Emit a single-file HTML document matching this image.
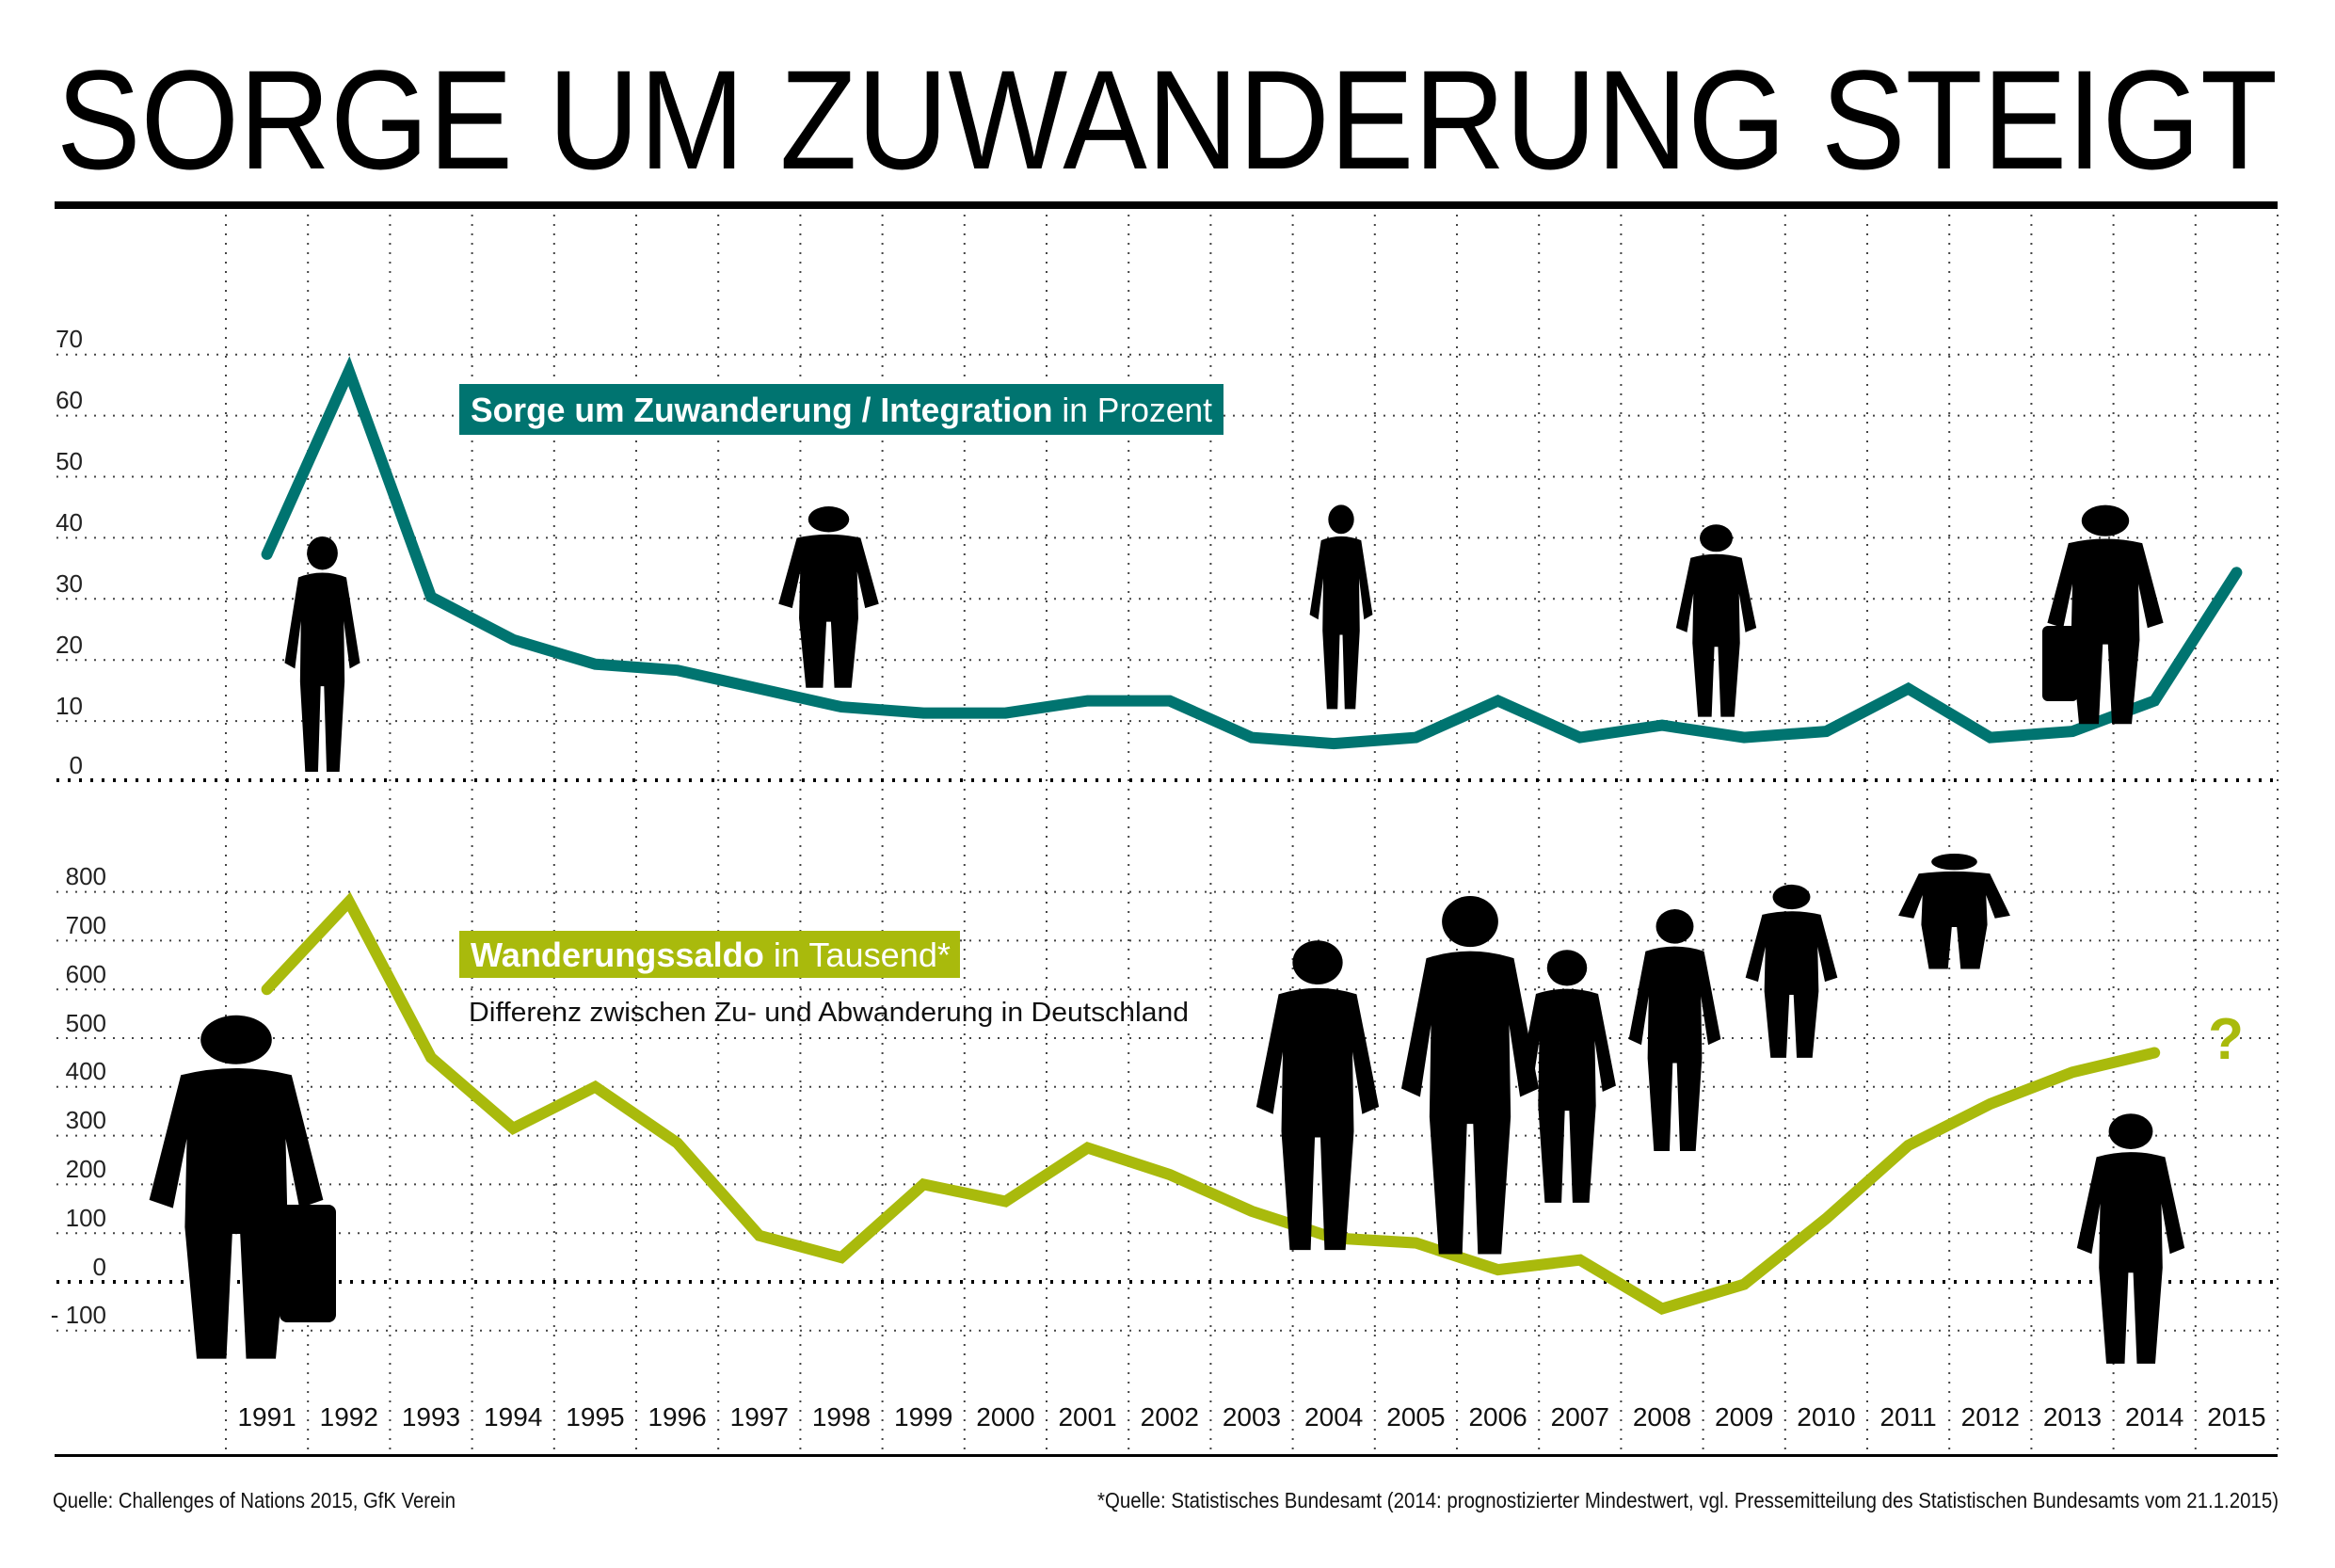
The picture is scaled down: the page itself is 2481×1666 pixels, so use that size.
<!DOCTYPE html>
<html><head><meta charset="utf-8"><style>
html,body{margin:0;padding:0;background:#fff;}
svg{display:block;font-family:"Liberation Sans",sans-serif;}
</style></head><body>
<svg width="2481" height="1666" viewBox="0 0 2481 1666" xmlns="http://www.w3.org/2000/svg">
<defs>
<symbol id="p" viewBox="0 0 100 260" preserveAspectRatio="none">
<circle cx="50" cy="22" r="18"/>
<path d="M22 48 Q50 38 78 48 L94 140 L82 146 L75 95 L76 160 L70 257 L55 257 L52 165 L48 165 L45 257 L30 257 L24 160 L25 95 L18 146 L6 140 Z"/>
</symbol>
</defs>
<rect width="2481" height="1666" fill="#fff"/>
<text x="60" y="179" font-size="150" textLength="2360" lengthAdjust="spacingAndGlyphs" fill="#000">SORGE UM ZUWANDERUNG STEIGT</text>
<rect x="58" y="214" width="2362" height="8" fill="#000"/>
<g stroke="#444" stroke-width="2" stroke-dasharray="2,8">
<line x1="240" y1="228" x2="240" y2="1545"/><line x1="327.2" y1="228" x2="327.2" y2="1545"/><line x1="414.4" y1="228" x2="414.4" y2="1545"/><line x1="501.6" y1="228" x2="501.6" y2="1545"/><line x1="588.8" y1="228" x2="588.8" y2="1545"/><line x1="676" y1="228" x2="676" y2="1545"/><line x1="763.2" y1="228" x2="763.2" y2="1545"/><line x1="850.4" y1="228" x2="850.4" y2="1545"/><line x1="937.6" y1="228" x2="937.6" y2="1545"/><line x1="1024.8" y1="228" x2="1024.8" y2="1545"/><line x1="1112" y1="228" x2="1112" y2="1545"/><line x1="1199.2" y1="228" x2="1199.2" y2="1545"/><line x1="1286.4" y1="228" x2="1286.4" y2="1545"/><line x1="1373.6" y1="228" x2="1373.6" y2="1545"/><line x1="1460.8" y1="228" x2="1460.8" y2="1545"/><line x1="1548" y1="228" x2="1548" y2="1545"/><line x1="1635.2" y1="228" x2="1635.2" y2="1545"/><line x1="1722.4" y1="228" x2="1722.4" y2="1545"/><line x1="1809.6" y1="228" x2="1809.6" y2="1545"/><line x1="1896.8" y1="228" x2="1896.8" y2="1545"/><line x1="1984" y1="228" x2="1984" y2="1545"/><line x1="2071.2" y1="228" x2="2071.2" y2="1545"/><line x1="2158.4" y1="228" x2="2158.4" y2="1545"/><line x1="2245.6" y1="228" x2="2245.6" y2="1545"/><line x1="2332.8" y1="228" x2="2332.8" y2="1545"/><line x1="2420" y1="228" x2="2420" y2="1545"/>
<line x1="60" y1="376.7" x2="2420" y2="376.7"/><line x1="60" y1="441.6" x2="2420" y2="441.6"/><line x1="60" y1="506.5" x2="2420" y2="506.5"/><line x1="60" y1="571.4" x2="2420" y2="571.4"/><line x1="60" y1="636.3" x2="2420" y2="636.3"/><line x1="60" y1="701.2" x2="2420" y2="701.2"/><line x1="60" y1="766.1" x2="2420" y2="766.1"/>
<line x1="60" y1="947.6" x2="2420" y2="947.6"/><line x1="60" y1="999.4" x2="2420" y2="999.4"/><line x1="60" y1="1051.2" x2="2420" y2="1051.2"/><line x1="60" y1="1103" x2="2420" y2="1103"/><line x1="60" y1="1154.8" x2="2420" y2="1154.8"/><line x1="60" y1="1206.6" x2="2420" y2="1206.6"/><line x1="60" y1="1258.4" x2="2420" y2="1258.4"/><line x1="60" y1="1310.2" x2="2420" y2="1310.2"/><line x1="60" y1="1413.8" x2="2420" y2="1413.8"/>
</g>
<g stroke="#000" stroke-width="4" stroke-dasharray="3,9">
<line x1="60" y1="829" x2="2420" y2="829"/><line x1="60" y1="1362" x2="2420" y2="1362"/>
</g>
<rect x="58" y="1545" width="2362" height="3" fill="#000"/>
<g font-size="26" fill="#222" text-anchor="end">
<text x="88" y="369">70</text><text x="88" y="434">60</text><text x="88" y="499">50</text><text x="88" y="564">40</text><text x="88" y="629">30</text><text x="88" y="694">20</text><text x="88" y="759">10</text><text x="88" y="822">0</text>
<text x="113" y="940">800</text><text x="113" y="992">700</text><text x="113" y="1044">600</text><text x="113" y="1096">500</text><text x="113" y="1147">400</text><text x="113" y="1199">300</text><text x="113" y="1251">200</text><text x="113" y="1303">100</text><text x="113" y="1355">0</text><text x="113" y="1406">- 100</text>
</g>
<g font-size="28" fill="#111" text-anchor="middle">
<text x="283.6" y="1515">1991</text><text x="370.8" y="1515">1992</text><text x="458" y="1515">1993</text><text x="545.2" y="1515">1994</text><text x="632.4" y="1515">1995</text><text x="719.6" y="1515">1996</text><text x="806.8" y="1515">1997</text><text x="894" y="1515">1998</text><text x="981.2" y="1515">1999</text><text x="1068.4" y="1515">2000</text><text x="1155.6" y="1515">2001</text><text x="1242.8" y="1515">2002</text><text x="1330" y="1515">2003</text><text x="1417.2" y="1515">2004</text><text x="1504.4" y="1515">2005</text><text x="1591.6" y="1515">2006</text><text x="1678.8" y="1515">2007</text><text x="1766" y="1515">2008</text><text x="1853.2" y="1515">2009</text><text x="1940.4" y="1515">2010</text><text x="2027.6" y="1515">2011</text><text x="2114.8" y="1515">2012</text><text x="2202" y="1515">2013</text><text x="2289.2" y="1515">2014</text><text x="2376.4" y="1515">2015</text>
</g>
<polyline fill="none" stroke="#007470" stroke-width="12" stroke-linejoin="miter" stroke-linecap="round" points="283.6,588.9 370.8,394.2 458,634.3 545.2,679.7 632.4,705.7 719.6,712.2 806.8,731.7 894,751.1 981.2,757.6 1068.4,757.6 1155.6,744.6 1242.8,744.6 1330,783.6 1417.2,790.1 1504.4,783.6 1591.6,744.6 1678.8,783.6 1766,770.6 1853.2,783.6 1940.4,777.1 2027.6,731.7 2114.8,783.6 2202,777.1 2289.2,744.6 2376.4,608.3"/>
<polyline fill="none" stroke="#a9ba0c" stroke-width="12" stroke-linejoin="miter" stroke-linecap="round" points="283.6,1051.2 370.8,958 458,1123.7 545.2,1198.8 632.4,1154.8 719.6,1214.4 806.8,1312.8 894,1336.1 981.2,1258.4 1068.4,1276.5 1155.6,1219.6 1242.8,1248 1330,1286.9 1417.2,1315.4 1504.4,1320.6 1591.6,1349.1 1678.8,1338.7 1766,1390.5 1853.2,1364.6 1940.4,1294.7 2027.6,1217 2114.8,1172.9 2202,1139.3 2289.2,1118.5"/>
<rect x="488" y="408" width="812" height="54" fill="#007470"/>
<text x="500" y="448" font-size="36" fill="#fff" textLength="788" lengthAdjust="spacingAndGlyphs"><tspan font-weight="bold">Sorge um Zuwanderung / Integration</tspan> in Prozent</text>
<rect x="488" y="989" width="532" height="50" fill="#a9ba0c"/>
<text x="500" y="1027" font-size="36" fill="#fff" textLength="510" lengthAdjust="spacingAndGlyphs"><tspan font-weight="bold">Wanderungssaldo</tspan> in Tausend*</text>
<text x="498" y="1085" font-size="29" fill="#111" textLength="765" lengthAdjust="spacingAndGlyphs">Differenz zwischen Zu- und Abwanderung in Deutschland</text>
<text x="2365" y="1125" font-size="62" font-weight="bold" fill="#a9ba0c" text-anchor="middle">?</text>
<g fill="#000">
<use href="#p" x="297" y="566" width="91" height="257"/>
<use href="#p" x="820" y="535" width="121" height="198"/>
<use href="#p" x="1387" y="533" width="76" height="223"/>
<use href="#p" x="1775" y="554" width="97" height="210"/>
<use href="#p" x="2167" y="533" width="140" height="239"/>
<use href="#p" x="146" y="1073" width="210" height="375"/>
<use href="#p" x="1326" y="994" width="148" height="338"/>
<use href="#p" x="1479" y="946" width="166" height="391"/>
<use href="#p" x="1606" y="1005" width="118" height="276"/>
<use href="#p" x="1724" y="962" width="111" height="264"/>
<use href="#p" x="1848" y="937" width="111" height="189"/>
<use href="#p" x="2009" y="905" width="135" height="126"/>
<use href="#p" x="2199" y="1179" width="130" height="273"/>
<rect x="297" y="1280" width="60" height="125" rx="8"/>
<rect x="2170" y="665" width="38" height="80" rx="6"/>
</g>
<text x="56" y="1602" font-size="23" fill="#111" textLength="428" lengthAdjust="spacingAndGlyphs">Quelle: Challenges of Nations 2015, GfK Verein</text>
<text x="1166" y="1602" font-size="23" fill="#111" textLength="1255" lengthAdjust="spacingAndGlyphs">*Quelle: Statistisches Bundesamt (2014: prognostizierter Mindestwert, vgl. Pressemitteilung des Statistischen Bundesamts vom 21.1.2015)</text>
</svg>
</body></html>
